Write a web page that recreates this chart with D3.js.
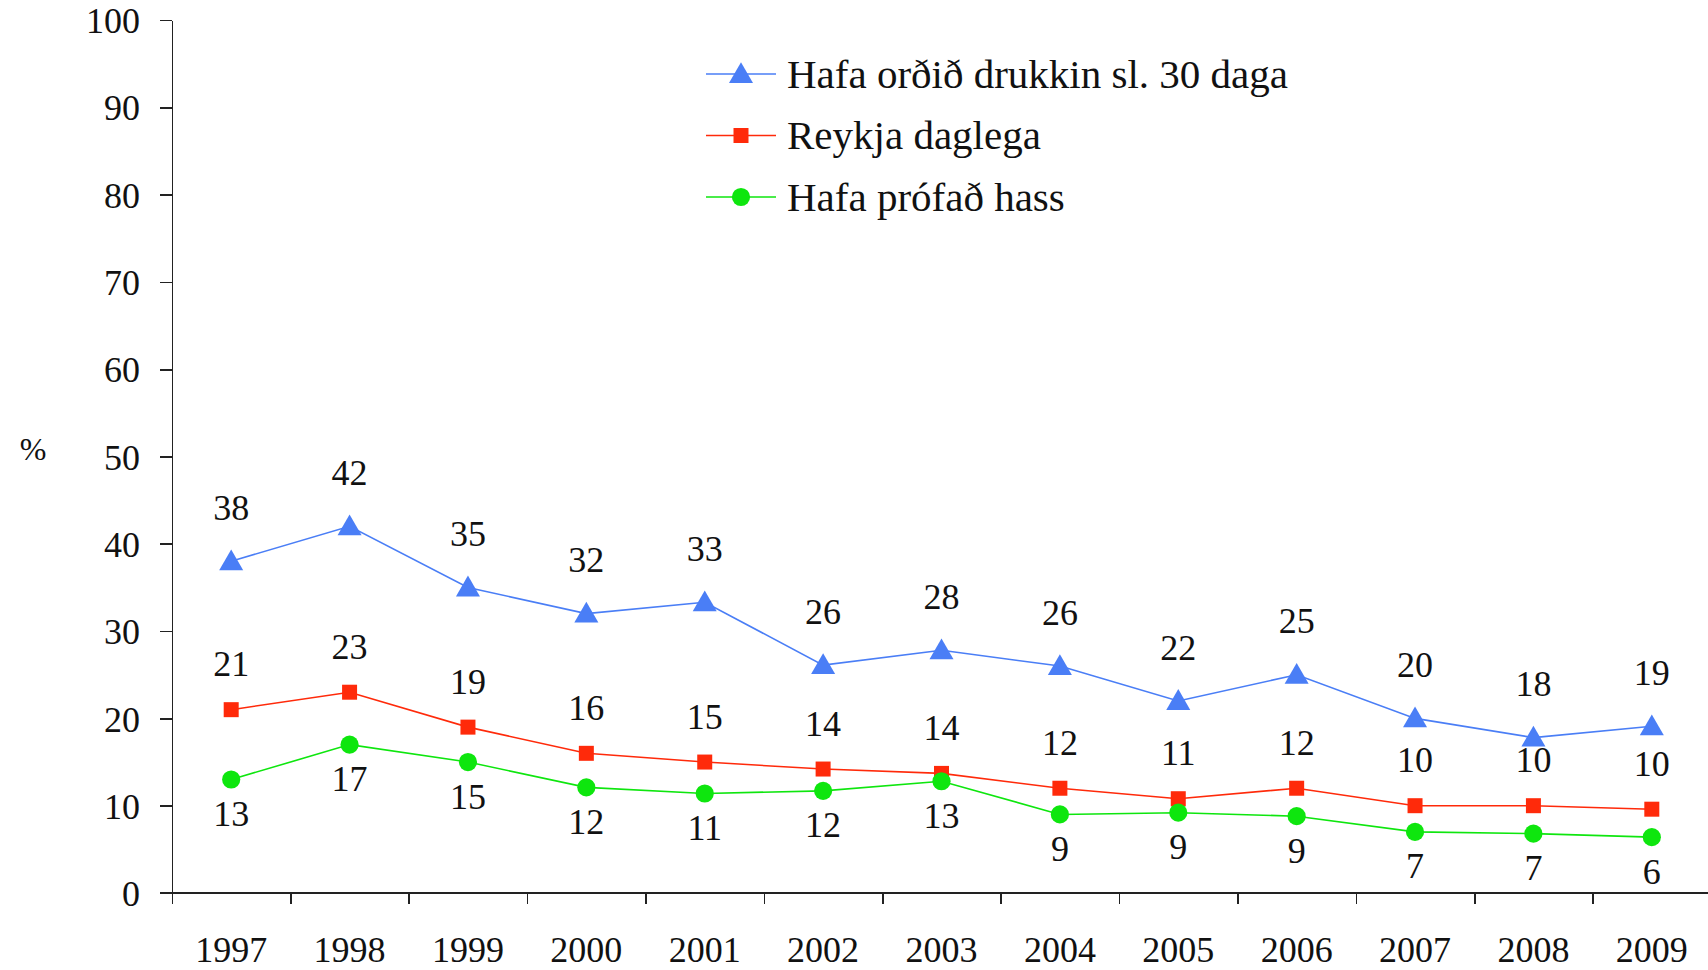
<!DOCTYPE html>
<html>
<head>
<meta charset="utf-8">
<script src="https://d3js.org/d3.v7.min.js"></script>
<style>
  body { margin: 0; background: white; }
  text { font-family: "Liberation Serif", "DejaVu Serif", serif; fill: #111; }
  .axis path, .axis line { stroke: #222; stroke-width: 1.6px; shape-rendering: crispEdges; }
  .axis text { font-size: 36px; }
  .lbl { font-size: 36px; }
  .leg { font-size: 41px; }
</style>
</head>
<body>
<script>
// data
var years = ["1997","1998","1999","2000","2001","2002","2003","2004","2005","2006","2007","2008","2009"];
var drukkin = [38, 42, 35, 32, 33.3, 26.1, 27.8, 26, 22, 25, 20, 17.8, 19.1];
var reykja  = [21, 23, 19, 16, 15, 14.2, 13.7, 12, 10.8, 12, 10, 10, 9.6];
var hass    = [13, 17, 15, 12.1, 11.4, 11.7, 12.8, 9, 9.2, 8.8, 7, 6.8, 6.4];
var seriesNames = ["Hafa orðið drukkin sl. 30 daga", "Reykja daglega", "Hafa prófað hass"];
var yTicks = [0, 10, 20, 30, 40, 50, 60, 70, 80, 90, 100];

var width = 1708, height = 970;
var mLeft = 172, mRight = 1711, mTop = 20, mBottom = 893;

var svg = d3.select("body").append("svg")
  .attr("width", width)
  .attr("height", height);

var x = d3.scaleBand().domain(years).range([mLeft, mRight]);
var xTick = d3.scaleLinear().domain([0, years.length]).range([mLeft, mRight]);
var y = d3.scaleLinear().domain([0, 100]).range([mBottom, mTop]);

// y axis
var yAxis = svg.append("g")
  .attr("class", "axis")
  .attr("transform", "translate(" + mLeft + ",0)")
  .call(d3.axisLeft(y).tickValues(yTicks).tickSize(12).tickSizeOuter(0).tickPadding(20));
yAxis.selectAll("text").attr("dy", "0.35em");

// x axis - ticks between the years
var xAxis = svg.append("g")
  .attr("class", "axis")
  .attr("transform", "translate(0," + mBottom + ")")
  .call(d3.axisBottom(xTick).tickValues(d3.range(years.length)).tickSize(11).tickSizeOuter(0).tickFormat(""));
xAxis.select(".domain").attr("d", "M" + (mLeft - 12) + ",0H" + width);

svg.append("g").selectAll("text")
  .data(years)
  .enter().append("text")
  .attr("class", "lbl")
  .attr("x", function(d) { return x(d) + x.bandwidth() / 2; })
  .attr("y", 962)
  .attr("text-anchor", "middle")
  .text(function(d) { return d; });

svg.append("text")
  .attr("class", "lbl")
  .attr("x", 33).attr("y", 449)
  .attr("dy", "0.35em")
  .attr("text-anchor", "middle")
  .style("font-size", "32px")
  .text("%");

var series = [
  { name: seriesNames[0], values: drukkin, color: "#4a7ef6", symbol: d3.symbolTriangle, size: 250, labelDy: -54 },
  { name: seriesNames[1], values: reykja,  color: "#ff2a0a", symbol: d3.symbolSquare,   size: 225, labelDy: -46 },
  { name: seriesNames[2], values: hass,    color: "#0ee60e", symbol: d3.symbolCircle,   size: 260, labelDy: 34 }
];

var cx = function(i) { return x(years[i]) + x.bandwidth() / 2; };

var line = d3.line()
  .x(function(d, i) { return cx(i); })
  .y(function(d) { return y(d); });

series.forEach(function(s) {
  var g = svg.append("g");
  g.append("path")
    .datum(s.values)
    .attr("d", line)
    .attr("fill", "none")
    .attr("stroke", s.color)
    .attr("stroke-width", 1.6);

  g.selectAll("path.pt")
    .data(s.values)
    .enter().append("path")
    .attr("class", "pt")
    .attr("d", d3.symbol().type(s.symbol).size(s.size))
    .attr("transform", function(d, i) {
      var off = s.symbol === d3.symbolTriangle ? 2 : 0;
      return "translate(" + cx(i) + "," + (y(d) + off) + ")";
    })
    .attr("fill", s.color);

  g.selectAll("text")
    .data(s.values)
    .enter().append("text")
    .attr("class", "lbl")
    .attr("x", function(d, i) { return cx(i); })
    .attr("y", function(d) { return y(d) + s.labelDy; })
    .attr("dy", "0.35em")
    .attr("text-anchor", "middle")
    .text(function(d) { return Math.round(d); });
});

// legend
var legend = svg.append("g").attr("transform", "translate(706,74)");
var legRows = legend.selectAll("g")
  .data(series)
  .enter().append("g")
  .attr("transform", function(d, i) { return "translate(0," + (i * 61.5) + ")"; });

legRows.append("line")
  .attr("x1", 0).attr("x2", 70)
  .attr("stroke", function(d) { return d.color; })
  .attr("stroke-width", 1.6);
legRows.append("path")
  .attr("d", function(d) { return d3.symbol().type(d.symbol).size(d.size)(); })
  .attr("transform", function(d) { return "translate(35," + (d.symbol === d3.symbolTriangle ? 2 : 0) + ")"; })
  .attr("fill", function(d) { return d.color; });
legRows.append("text")
  .attr("class", "leg")
  .attr("x", 81)
  .attr("dy", "0.33em")
  .text(function(d) { return d.name; });
</script>
</body>
</html>
